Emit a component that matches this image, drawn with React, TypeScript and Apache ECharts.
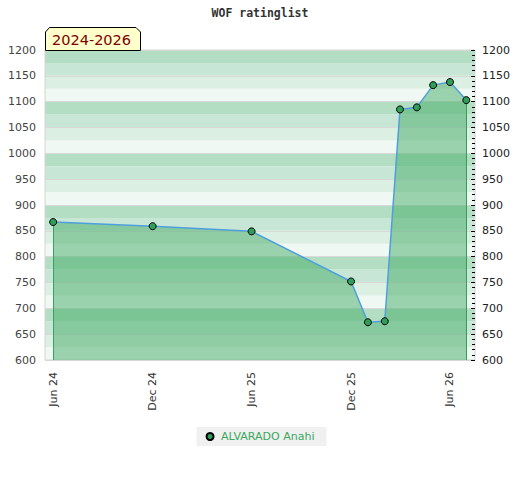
import React, { useEffect, useRef } from 'react';
import * as echarts from 'echarts';

const chartTitle = 'WOF ratinglist';
const periodLabel = '2024-2026';
const playerName = 'ALVARADO Anahi';

const ratingDates = [
  '2024-06-01', '2024-12-01', '2025-06-01', '2025-12-01', '2026-01-01',
  '2026-02-01', '2026-03-01', '2026-04-01', '2026-05-01', '2026-06-01', '2026-07-01',
];
const ratingValues = [867, 859, 849, 752, 673, 675, 1085, 1089, 1132, 1138, 1103];

const xRange = ['2024-05-17', '2026-07-17'];
const xTickDates = ['2024-06-01', '2024-12-01', '2025-06-01', '2025-12-01', '2026-06-01'];
const xTickLabels = ['Jun 24', 'Dec 24', 'Jun 25', 'Dec 25', 'Jun 26'];

const yMin = 600;
const yMax = 1200;
const yStep = 50;
const bandStep = 25;
const bandColors = ['#eff8f2', '#dcefe3', '#c8e6d5', '#b3dec3'];

const parseDate = (s: string) => {
  const [y, m, d] = s.split('-').map(Number);
  return Date.UTC(y, m - 1, d);
};

export default function App() {
  const ref = useRef<HTMLDivElement>(null);

  useEffect(() => {
    document.body.style.margin = '0';
    if (!ref.current) return;
    const chart = echarts.init(ref.current, undefined, { renderer: 'svg' });
    const tickTs = xTickDates.map(parseDate);
    const data = ratingDates.map((d, i) => [parseDate(d), ratingValues[i]]);
    const first = data[0];
    const last = data[data.length - 1];
    const DAY = 86400000;
    const plain = (v: number) => String(v);

    chart.setOption({
      animation: false,
      textStyle: { fontFamily: 'DejaVu Sans' },
      title: {
        text: chartTitle,
        left: 'center',
        top: 7,
        padding: 0,
        textStyle: {
          fontFamily: 'DejaVu Sans Mono',
          fontWeight: 'bold',
          fontSize: 11.5,
          color: '#333',
        },
      },
      grid: {
        left: 45,
        right: 45,
        top: 50,
        bottom: 120,
        show: true,
        borderColor: '#d4d4d4',
        borderWidth: 1,
        backgroundColor: 'transparent',
        z: 3,
      },
      legend: {
        data: [playerName],
        left: 'center',
        bottom: 34,
        backgroundColor: '#f0f0f0',
        padding: [4, 12, 4, 9],
        itemWidth: 12,
        itemHeight: 7,
        icon: 'circle',
        textStyle: { color: '#3aa85e', fontSize: 11, fontFamily: 'DejaVu Sans' },
      },
      xAxis: {
        type: 'value',
        min: parseDate(xRange[0]),
        max: parseDate(xRange[1]),
        axisLine: { show: false },
        axisTick: { show: false },
        splitLine: { show: false },
        axisLabel: {
          customValues: tickTs,
          rotate: 90,
          margin: 12,
          color: '#333',
          fontSize: 11,
          fontFamily: 'DejaVu Sans',
          showMinLabel: true,
          showMaxLabel: true,
          formatter: (v: number) => {
            const i = tickTs.findIndex((t) => Math.abs(t - v) < DAY);
            return i >= 0 ? xTickLabels[i] : '';
          },
        },
      },
      yAxis: [
        {
          type: 'value',
          min: yMin,
          max: yMax,
          interval: yStep,
          position: 'left',
          z: 1,
          axisLine: { show: false },
          axisTick: { show: false },
          splitLine: { show: true, lineStyle: { color: '#d9d9d9', width: 1 } },
          axisLabel: { color: '#444', fontSize: 11, margin: 9, formatter: plain },
        },
        {
          type: 'value',
          min: yMin,
          max: yMax,
          interval: yStep,
          position: 'right',
          z: 4,
          axisLine: { show: false },
          axisTick: { show: true, inside: true, length: 4, lineStyle: { color: '#000' } },
          minorTick: { show: true, splitNumber: 5, length: 3, lineStyle: { color: '#000' } },
          splitLine: { show: false },
          axisLabel: { color: '#222', fontSize: 11, margin: 7, formatter: plain },
        },
        {
          type: 'value',
          min: yMin,
          max: yMax,
          interval: bandStep,
          position: 'left',
          z: 0,
          axisLine: { show: false },
          axisTick: { show: false },
          axisLabel: { show: false },
          splitLine: { show: false },
          splitArea: { show: true, areaStyle: { color: bandColors } },
        },
      ],
      series: [
        {
          name: playerName,
          type: 'line',
          yAxisIndex: 0,
          data,
          symbol: 'circle',
          symbolSize: 7,
          itemStyle: { color: '#2f9e58', borderColor: '#000', borderWidth: 1 },
          lineStyle: { color: '#4f9fdc', width: 1.5 },
          areaStyle: { color: 'rgba(67,171,104,0.5)', opacity: 1, origin: 'start' },
          z: 5,
          markLine: {
            silent: true,
            symbol: 'none',
            label: { show: false },
            lineStyle: { color: '#2f9e55', width: 1, type: 'solid' },
            data: [
              [{ coord: [first[0], first[1]] }, { coord: [first[0], yMin] }],
              [{ coord: [last[0], last[1]] }, { coord: [last[0], yMin] }],
            ],
          },
        },
      ],
      graphic: [
        {
          type: 'polygon',
          z: 100,
          shape: {
            points: [
              [45.5, 50.5], [45.5, 32], [49.5, 27.5], [136, 27.5], [140.5, 32], [140.5, 50.5],
            ],
          },
          style: { fill: '#ffffcc', stroke: '#000', lineWidth: 1 },
        },
        {
          type: 'text',
          z: 101,
          x: 52,
          y: 40,
          style: {
            text: periodLabel,
            fill: '#800000',
            fontSize: 14.5,
            fontFamily: 'DejaVu Sans',
            verticalAlign: 'middle',
          },
        },
      ],
    });

    return () => chart.dispose();
  }, []);

  return <div ref={ref} style={{ width: 520, height: 480 }} />;
}
